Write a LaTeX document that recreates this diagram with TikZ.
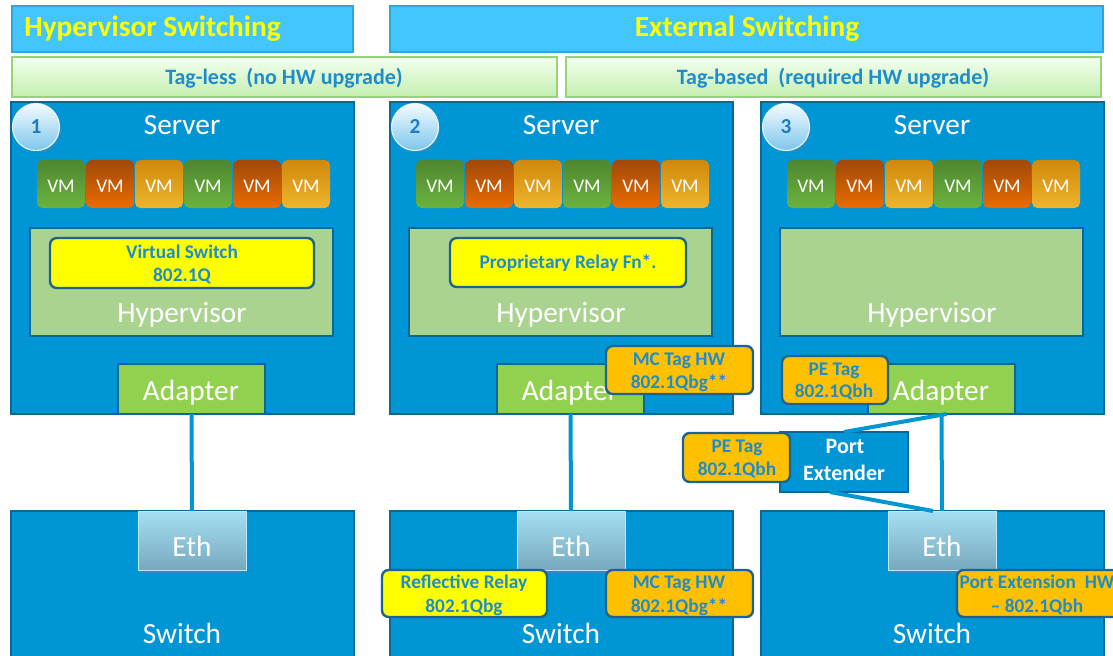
\documentclass[tikz,border=0pt]{standalone}
\usepackage{fontspec}
\setmainfont{Carlito}
\usetikzlibrary{shadows,calc}

\newdimen\pxu \pxu=0.75pt

\definecolor{hdrblue}{HTML}{43C5FD}
\definecolor{hdrline}{HTML}{2DA6DC}
\definecolor{hdryel}{HTML}{FFFF00}
\definecolor{barTop}{HTML}{F3FFF0}
\definecolor{barBot}{HTML}{C4EEAE}
\definecolor{barLine}{HTML}{96D47A}
\definecolor{txtblue}{HTML}{1F8CCB}
\definecolor{srvblue}{HTML}{0096D6}
\definecolor{srvline}{HTML}{0C6797}
\definecolor{hypgreen}{HTML}{A9D38E}
\definecolor{adpgreen}{HTML}{92D050}
\definecolor{tagline}{HTML}{1B6390}
\definecolor{tagorange}{HTML}{FFC000}
\definecolor{tagyellow}{HTML}{FFFF00}
\definecolor{vmGtop}{HTML}{4E8730}
\definecolor{vmGbot}{HTML}{6CB33E}
\definecolor{vmRtop}{HTML}{A0480A}
\definecolor{vmRbot}{HTML}{EA6C00}
\definecolor{vmAtop}{HTML}{D0880C}
\definecolor{vmAbot}{HTML}{EEB52C}
\definecolor{ethTop}{HTML}{A6DEF3}
\definecolor{ethBot}{HTML}{77A9BD}
\definecolor{numTop}{HTML}{F4FBFF}
\definecolor{numBot}{HTML}{7CC6EC}
\definecolor{numTxt}{HTML}{1E7CC0}

% name, x1, y1, x2, y2, style
\newcommand\rbox[6]{%
  \node[#6, anchor=north west, inner sep=0pt, outer sep=0pt,
        minimum width={((#4)-(#2))*\pxu}, minimum height={((#5)-(#3))*\pxu}]
        (#1) at (#2,#3) {};}

\begin{document}
\begin{tikzpicture}[x=0.75pt,y=-0.75pt,
  hdr/.style={fill=hdrblue, draw=hdrline, line width=0.8pt,
              drop shadow={opacity=0.25, shadow xshift=1pt, shadow yshift=-1pt}},
  bar/.style={top color=barTop, bottom color=barBot, draw=barLine, line width=0.8pt},
  srv/.style={fill=srvblue, draw=srvline, line width=1.8pt},
  hyp/.style={fill=hypgreen, draw=srvline, line width=1.8pt},
  adp/.style={fill=adpgreen, draw=srvline, line width=1.5pt},
  vm/.style={rounded corners=4pt},
  ybox/.style={fill=tagyellow, draw=tagline, line width=1.8pt, rounded corners=5pt},
  obox/.style={fill=tagorange, draw=tagline, line width=1.8pt, rounded corners=5pt},
  pebox/.style={fill=srvblue, draw=srvline, line width=1.8pt},
  eth/.style={top color=ethTop, bottom color=ethBot, draw=ethTop!70!white, line width=0.6pt,
              drop shadow={opacity=0.35, shadow xshift=0.5pt, shadow yshift=-2pt}},
  numc/.style={circle, inner sep=0pt, minimum size={47*\pxu}, top color=numTop, bottom color=numBot,
               draw=white!85!numBot, line width=0.8pt, text=numTxt,
               font=\bfseries\fontsize{16}{18}\selectfont,
               drop shadow={opacity=0.3, shadow xshift=1pt, shadow yshift=-1.5pt}},
  hdrtxt/.style={anchor=base, inner sep=0pt, text=hdryel, font=\bfseries\fontsize{22}{26}\selectfont},
  bartxt/.style={anchor=base, inner sep=0pt, text=txtblue, font=\bfseries\fontsize{16.5}{20}\selectfont},
  bigtxt/.style={anchor=base, inner sep=0pt, text=white, font=\fontsize{22}{26}\selectfont},
  vmtxt/.style={anchor=base, inner sep=0pt, text=white, font=\fontsize{14.5}{17}\selectfont},
  lbl/.style={anchor=base, inner sep=0pt, text=txtblue, font=\bfseries\fontsize{14.5}{17}\selectfont},
  petxt/.style={anchor=base, inner sep=0pt, text=white, font=\bfseries\fontsize{16.5}{19}\selectfont},
  link/.style={draw=srvblue, line width=3pt}
]
\useasboundingbox (0,0) rectangle (1113,656);

% headers
\rbox{h1}{12}{6}{353}{52}{hdr}
\node[hdrtxt, anchor=base west] (h1t) at (24,37) {Hypervisor Switching};
\rbox{h2}{390}{6}{1103}{52}{hdr}
\node[hdrtxt] (h2t) at (747,37) {External Switching};

% bars
\rbox{b1}{12}{57}{557}{97}{bar}
\node[bartxt] (b1t) at (284,85) {Tag-less\ \ (no HW upgrade)};
\rbox{b2}{566}{57}{1101}{97}{bar}
\node[bartxt] (b2t) at (833,85) {Tag-based\ \ (required HW upgrade)};

% common parts of the three columns
\foreach \s/\o in {1/0,2/379,3/750}{
  \rbox{srv\s}{11+\o}{102}{354+\o}{414}{srv}
  \node[numc] (num\s) at (36+\o,127) {\s};
  \node[bigtxt] (srvt\s) at (182+\o,135) {Server};
  \foreach \i/\ct/\cb in {0/vmGtop/vmGbot,1/vmRtop/vmRbot,2/vmAtop/vmAbot,
                          3/vmGtop/vmGbot,4/vmRtop/vmRbot,5/vmAtop/vmAbot}{
    \pgfmathsetmacro\xa{37+\o+49*\i}
    \rbox{vm\s\i}{\xa}{160}{\xa+48}{208}{vm, top color=\ct, bottom color=\cb}
    \node[vmtxt] (vmt\s\i) at (\xa+24,192) {VM};
  }
  \rbox{hyp\s}{30+\o}{228}{333+\o}{336}{hyp}
  \node[bigtxt] (hypt\s) at (182+\o,322) {Hypervisor};
  \rbox{adp\s}{118+\o}{364}{265+\o}{414}{adp}
  \node[bigtxt] (adpt\s) at (191+\o,400) {Adapter};
  \rbox{sw\s}{11+\o}{511}{354+\o}{664}{srv}
  \rbox{eth\s}{138+\o}{511}{246+\o}{570}{eth}
  \node[bigtxt] (etht\s) at (192+\o,556) {Eth};
  \node[bigtxt] (swt\s) at (182+\o,643) {Switch};
  \draw[link] (adp\s.south) -- (eth\s.north);
}

% column 1
\rbox{vsw}{50}{238}{314}{288}{ybox}
\node[lbl] (vswa) at (182,258) {Virtual Switch};
\node[lbl] (vswb) at (182,281) {802.1Q};

% column 2
\rbox{prf}{450}{238}{686}{287}{ybox}
\node[lbl] (prft) at (568,268) {Proprietary Relay Fn*.};
\rbox{mct}{606}{346}{753}{394}{obox}
\node[lbl] (mcta) at (679,365) {MC Tag HW};
\node[lbl] (mctb) at (679,388) {802.1Qbg**};
\rbox{rr}{382}{570}{547}{617}{ybox}
\node[lbl] (rra) at (464,588) {Reflective Relay};
\node[lbl] (rrb) at (464,612) {802.1Qbg};
\rbox{mcb}{606}{570}{753}{617}{obox}
\node[lbl] (mcba) at (679,588) {MC Tag HW};
\node[lbl] (mcbb) at (679,612) {802.1Qbg**};

% column 3
\rbox{pe}{780}{432}{908}{492}{pebox}
\node[petxt] (pea) at (845,453) {Port};
\node[petxt] (peb) at (844,480) {Extender};
\coordinate (a3r) at ($(adp3.south)+(5,0)$);
\coordinate (pes) at ($(pe.south)+(-14,0)$);
\coordinate (e3n) at ($(eth3.north)+(-9,0)$);
\draw[link] (a3r) -- (pe.north);
\draw[link] (pes) -- (e3n);
\rbox{pet}{782}{356}{888}{404}{obox}
\node[lbl] (peta) at (834,375) {PE Tag};
\node[lbl] (petb) at (834,397) {802.1Qbh};
\rbox{pel}{683}{433}{790}{482}{obox}
\node[lbl] (pela) at (737,452) {PE Tag};
\node[lbl] (pelb) at (737,475) {802.1Qbh};
\rbox{pxh}{957}{570}{1125}{617}{obox}
\node[lbl] (pxha) at (1037,588) {Port Extension\ \ HW};
\node[lbl] (pxhb) at (1037,612) {– 802.1Qbh};
\end{tikzpicture}
\end{document}
